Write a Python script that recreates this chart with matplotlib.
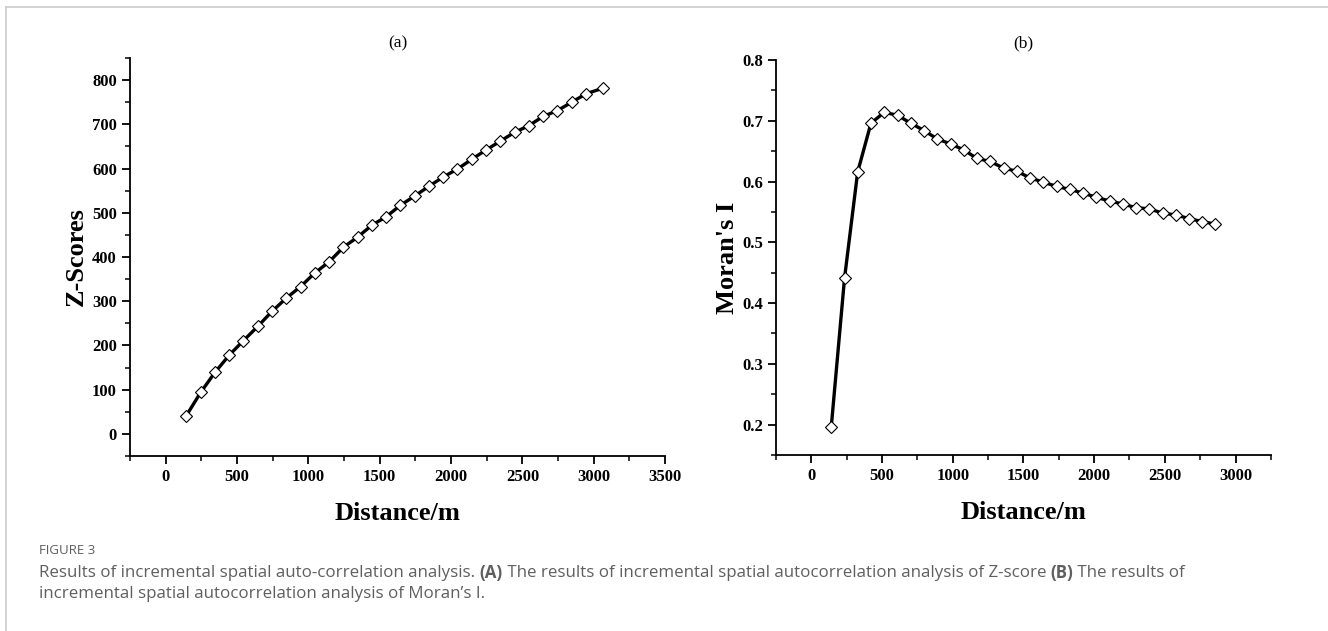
import numpy as np
import matplotlib.pyplot as plt
from matplotlib.ticker import MultipleLocator
from matplotlib.lines import Line2D

# (a) Z-score
dist_a = [145, 245, 345, 445, 545, 645, 745, 845, 945, 1045, 1145, 1245,
          1345, 1445, 1545, 1645, 1745, 1845, 1945, 2045, 2145, 2245, 2345,
          2445, 2545, 2645, 2745, 2845, 2945, 3065]
zscore = [41.5, 93.7, 139, 178, 211, 243, 277, 307, 333, 364, 389, 422,
          445, 472, 491, 517, 538, 560, 581, 599, 621, 642, 662, 682,
          697, 718, 731, 750, 769, 782]

# (b) Moran's I
dist_b = [141, 235, 328, 422, 516, 610, 703, 797, 891, 985, 1078, 1172,
          1266, 1360, 1453, 1547, 1641, 1735, 1828, 1922, 2016, 2110, 2203,
          2297, 2391, 2485, 2578, 2672, 2766, 2857]
morans = [0.196, 0.441, 0.616, 0.696, 0.714, 0.709, 0.696, 0.684, 0.670,
          0.662, 0.652, 0.638, 0.633, 0.622, 0.617, 0.606, 0.599, 0.592,
          0.587, 0.581, 0.574, 0.568, 0.563, 0.557, 0.555, 0.548, 0.545,
          0.539, 0.534, 0.530]

serif = 'Liberation Serif'
plt.rcParams['font.family'] = serif
plt.rcParams['font.weight'] = 'bold'

fig = plt.figure(figsize=(13.28, 6.31), dpi=100)


def style(ax):
    for s in ['top', 'right']:
        ax.spines[s].set_visible(False)
    for s in ['left', 'bottom']:
        ax.spines[s].set_linewidth(1.3)
    ax.tick_params(which='major', direction='out', length=6, width=1.3, labelsize=12)
    ax.tick_params(which='minor', direction='out', length=3.5, width=1.1)


ax1 = fig.add_axes([0.0979, 0.2773, 0.4029, 0.6307])
ax1.plot(dist_a, zscore, color='black', lw=2.4, marker='D', ms=6.5,
         mfc='white', mec='black', mew=0.8)
ax1.set_xlim(-250, 3500)
ax1.set_ylim(-50, 850)
ax1.set_xticks(np.arange(0, 3501, 500))
ax1.xaxis.set_minor_locator(MultipleLocator(250))
ax1.set_yticks(np.arange(0, 801, 100))
ax1.yaxis.set_minor_locator(MultipleLocator(50))
style(ax1)
ax1.set_xlabel('Distance/m', fontsize=19, fontweight='bold', labelpad=12)
ax1.set_ylabel('Z-Scores', fontsize=19, fontweight='bold', labelpad=3)
ax1.set_title('(a)', fontweight='normal', fontsize=12.5, pad=8)

ax2 = fig.add_axes([0.5843, 0.2789, 0.3727, 0.626])
ax2.plot(dist_b, morans, color='black', lw=2.4, marker='D', ms=6.5,
         mfc='white', mec='black', mew=0.8)
ax2.set_xlim(-250, 3250)
ax2.set_ylim(0.15, 0.8)
ax2.set_xticks(np.arange(0, 3001, 500))
ax2.xaxis.set_minor_locator(MultipleLocator(250))
ax2.set_yticks(np.arange(0.2, 0.81, 0.1))
ax2.yaxis.set_minor_locator(MultipleLocator(0.05))
ax2.set_yticklabels(['0.2', '0.3', '0.4', '0.5', '0.6', '0.7', '0.8'])
style(ax2)
ax2.set_xlabel('Distance/m', fontsize=19, fontweight='bold', labelpad=12)
ax2.set_ylabel("Moran's I", fontsize=19, fontweight='bold', labelpad=2)
ax2.set_title('(b)', fontweight='normal', fontsize=12.5, pad=9)

# page border
fig.add_artist(Line2D([6/1328, 1], [1 - 7/631, 1 - 7/631], color='#cccccc', lw=1.2))
fig.add_artist(Line2D([6/1328, 6/1328], [0, 1 - 7/631], color='#cccccc', lw=1.2))

# caption
cap = dict(fontfamily='Open Sans', color='#5f5f5f', fontsize=12.2)
fig.text(39/1328, 1 - 551/631, 'FIGURE 3', fontweight='normal', fontfamily='Open Sans',
         color='#5f5f5f', fontsize=9.5, va='center')
line1 = [('Results of incremental spatial auto-correlation analysis. ', 'normal'),
         ('(A)', 'bold'),
         (' The results of incremental spatial autocorrelation analysis of Z-score ', 'normal'),
         ('(B)', 'bold'),
         (' The results of', 'normal')]
fig.canvas.draw()
rend = fig.canvas.get_renderer()
x = 39
for txt, w in line1:
    t = fig.text(x/1328, 1 - 573/631, txt, fontweight=w, va='center', **cap)
    x = t.get_window_extent(rend).x1
fig.text(39/1328, 1 - 594/631, "incremental spatial autocorrelation analysis of Moran\u2019s I.",
         fontweight='normal', va='center', **cap)

fig.savefig('out.png', dpi=100)
